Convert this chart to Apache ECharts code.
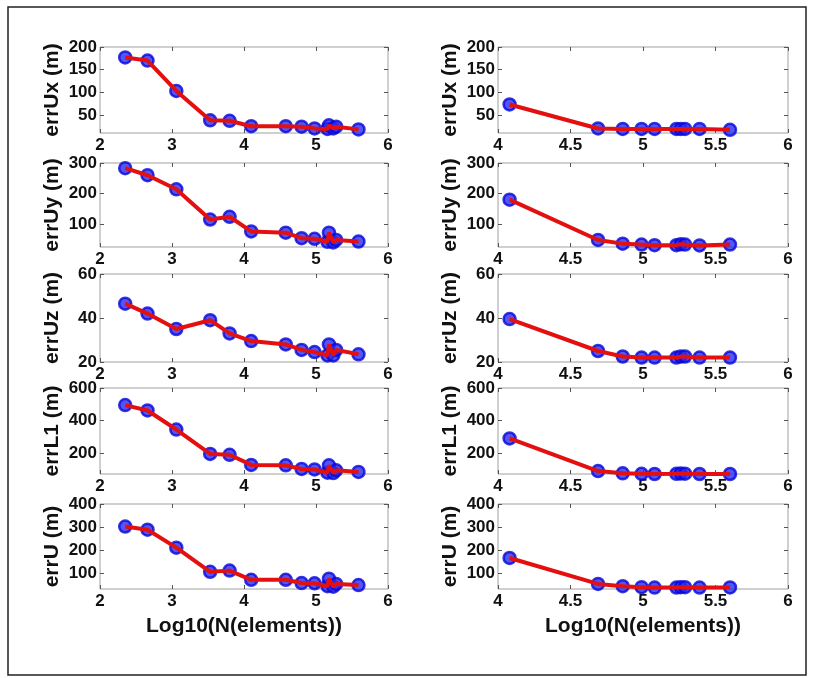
<!DOCTYPE html>
<html><head><meta charset="utf-8">
<script src="https://cdn.jsdelivr.net/npm/echarts@6/dist/echarts.min.js"></script>
<style>html,body{margin:0;padding:0;background:#fff}#c{width:814px;height:678px}</style>
</head><body><div id="c"></div>
<script>
// ---- data ----
const leftX  = [2.35, 2.66, 3.06, 3.53, 3.80, 4.10, 4.58, 4.80, 4.98, 5.16, 5.18, 5.24, 5.28, 5.59];
const rightX = [4.08, 4.69, 4.86, 4.99, 5.08, 5.23, 5.26, 5.29, 5.39, 5.60];

const panelNames = ['errUx (m)', 'errUy (m)', 'errUz (m)', 'errL1 (m)', 'errU (m)'];
const xLabelName = 'Log10(N(elements))';

const errUxLeft = [177, 170, 103, 38, 37, 25, 25, 24, 20, 19, 27, 20, 24, 18];
const errUyLeft = [283, 260, 214, 115, 124, 76, 72, 54, 52, 42, 72, 40, 48, 43];
const errUzLeft = [46.5, 42, 35, 39, 33, 29.5, 28, 25.5, 24.5, 23, 28, 23, 25.5, 23.5];
const errL1Left = [495, 462, 345, 195, 190, 128, 125, 103, 100, 80, 125, 78, 95, 85];
const errULeft  = [302, 288, 210, 105, 110, 70, 70, 56, 55, 42, 75, 40, 52, 47];

const errUxRight = [73, 20, 19, 19, 19, 19, 19, 19, 19, 17];
const errUyRight = [180, 48, 36, 33, 31, 31, 34, 33, 30, 33];
const errUzRight = [39.5, 25, 22.5, 22, 22, 22, 22.5, 22.5, 22, 22];
const errL1Right = [290, 90, 76, 73, 72, 73, 75, 74, 72, 72];
const errURight  = [165, 52, 42, 38, 36, 36, 38, 38, 36, 37];

const yMins = [10, 25, 20, 72, 30];
const yMaxs = [200, 300, 60, 600, 400];
const yTicks = [[50, 100, 150, 200], [100, 200, 300], [20, 40, 60], [200, 400, 600], [100, 200, 300, 400]];

const xLeftMin = 2, xLeftMax = 6, xLeftStep = 1;
const xRightMin = 4, xRightMax = 6, xRightStep = 0.5;

const leftData  = [errUxLeft, errUyLeft, errUzLeft, errL1Left, errULeft];
const rightData = [errUxRight, errUyRight, errUzRight, errL1Right, errURight];

// ---- layout ----
const FONT = 'Liberation Sans';
const rowTops = [47, 163, 274, 388, 504];
const rowHeights = [86, 84, 88, 86, 85];
const colLefts = [100, 498];
const colWidths = [288, 290];

const grids = [], xAxes = [], yAxes = [], series = [];
const tickStyle = { show: true, inside: true, length: 4, lineStyle: { color: '#555', width: 1 } };

for (let r = 0; r < 5; r++) {
  for (let c = 0; c < 2; c++) {
    const gi = grids.length;
    grids.push({ left: colLefts[c], top: rowTops[r], width: colWidths[c], height: rowHeights[r],
      show: true, borderColor: '#a0a0a0', borderWidth: 1, backgroundColor: '#fff', containLabel: false });
    const xmin = c === 0 ? xLeftMin : xRightMin;
    const xmax = c === 0 ? xLeftMax : xRightMax;
    const xstep = c === 0 ? xLeftStep : xRightStep;
    const bottomX = xAxes.length;
    xAxes.push({ type: 'value', gridIndex: gi, min: xmin, max: xmax, interval: xstep, position: 'bottom',
      splitLine: { show: false }, axisLine: { show: false }, axisTick: tickStyle,
      axisLabel: { color: '#111', fontFamily: FONT, fontWeight: 'bold', fontSize: 17, margin: 4 },
      name: r === 4 ? xLabelName : '', nameLocation: 'middle', nameGap: 27,
      nameTextStyle: { color: '#111', fontFamily: FONT, fontWeight: 'bold', fontSize: 21 } });
    xAxes.push({ type: 'value', gridIndex: gi, min: xmin, max: xmax, interval: xstep, position: 'top',
      splitLine: { show: false }, axisLine: { show: false }, axisTick: tickStyle, axisLabel: { show: false } });
    const leftY = yAxes.length;
    yAxes.push({ type: 'value', gridIndex: gi, min: yMins[r], max: yMaxs[r], position: 'left',
      splitLine: { show: false }, axisLine: { show: false },
      axisTick: Object.assign({}, tickStyle, { customValues: yTicks[r] }),
      axisLabel: { customValues: yTicks[r], color: '#111', fontFamily: FONT, fontWeight: 'bold', fontSize: 17, margin: 3 },
      name: panelNames[r], nameLocation: 'middle', nameRotate: 90, nameGap: 37,
      nameTextStyle: { color: '#111', fontFamily: FONT, fontWeight: 'bold', fontSize: 21 } });
    yAxes.push({ type: 'value', gridIndex: gi, min: yMins[r], max: yMaxs[r], position: 'right',
      splitLine: { show: false }, axisLine: { show: false },
      axisTick: Object.assign({}, tickStyle, { customValues: yTicks[r] }),
      axisLabel: { show: false } });
    const xs = c === 0 ? leftX : rightX;
    const ys = c === 0 ? leftData[r] : rightData[r];
    const pts = xs.map((x, i) => [x, ys[i]]);
    series.push({ type: 'scatter', xAxisIndex: bottomX, yAxisIndex: leftY, data: pts, clip: false,
      symbol: 'circle', symbolSize: 12, z: 2,
      itemStyle: { color: '#2a2af0', borderColor: '#0606d8', borderWidth: 2.5 } });
    series.push({ type: 'line', xAxisIndex: bottomX, yAxisIndex: leftY, data: pts, clip: false,
      symbol: 'none', z: 3, lineStyle: { color: '#e3100f', width: 4 } });
  }
}

const chart = echarts.init(document.getElementById('c'), null, { renderer: 'canvas' });
chart.setOption({
  animation: false,
  backgroundColor: '#fff',
  grid: grids, xAxis: xAxes, yAxis: yAxes, series: series,
  graphic: [{ type: 'rect', shape: { x: 8, y: 7, width: 798, height: 668 },
    style: { fill: 'none', stroke: '#222', lineWidth: 1.5 }, silent: true, z: -1 }]
});
</script></body></html>
